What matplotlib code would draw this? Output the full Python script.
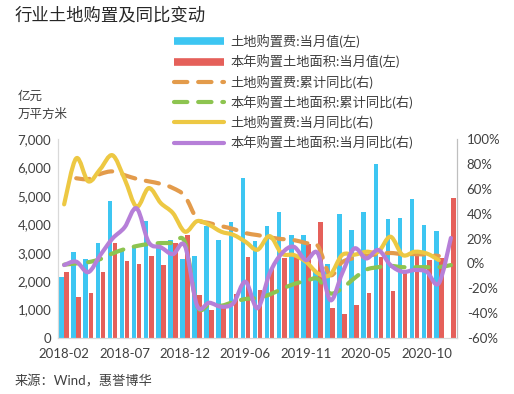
import numpy as np
import matplotlib
matplotlib.use('Agg')
import matplotlib.pyplot as plt
from matplotlib.lines import Line2D
from matplotlib.path import Path
from matplotlib.patches import PathPatch
from matplotlib.ticker import FuncFormatter

plt.rcParams['font.family'] = ['Lato', 'Noto Sans CJK SC', 'DejaVu Sans']

nan = np.nan
months = ['2018-02', '2018-03', '2018-04', '2018-05', '2018-06', '2018-07', '2018-08', '2018-09',
          '2018-10', '2018-11', '2018-12',
          '2019-02', '2019-03', '2019-04', '2019-05', '2019-06', '2019-07', '2019-08', '2019-09',
          '2019-10', '2019-11', '2019-12',
          '2020-02', '2020-03', '2020-04', '2020-05', '2020-06', '2020-07', '2020-08', '2020-09',
          '2020-10', '2020-11', '2020-12']
tick_labels = ['2018-02', '2018-07', '2018-12', '2019-06', '2019-11', '2020-05', '2020-10']

# 土地购置费:当月值(左), 亿元
fee_month = [2156, 3036, 2779, 3353, 4819, 3100, 3236, 4115, 3155, 3447, 2779,
             2884, 3940, 3447, 4080, 5640, 3424, 3940, 4432, 3612, 3612, 2357,
             2614, 4350, 3800, 4445, 6110, 4174, 4209, 4877, 3975, 3763, nan]
# 本年购置土地面积:当月值(左), 万平方米
area_month = [2320, 1442, 1583, 2310, 3330, 2708, 2603, 2884, 2580, 3341, 3623,
              1512, 974, 1100, 1560, 2849, 1700, 2427, 2800, 2920, 3318, 4080,
              1067, 856, 1172, 1571, 2838, 1665, 2333, 2920, 2744, 2803, 4935]
# 土地购置费:累计同比(右), %
fee_cum_yoy = [nan, 68.5, 67.8, 72, 74, 71, 68, 66, 64, 60.6, 54,
               35.7, 32.5, 30, 27.7, 24.4, 22.8, 21, 19.6, 18.8, 16.4, 14,
               -9.3, 1, 4.3, 6, 7.6, 8.4, 7.5, 7.5, 7, 6, nan]
# 本年购置土地面积:累计同比(右), %
area_cum_yoy = [-1, 0, 1, 3.5, 8, 11.5, 14, 15.6, 16.4, 16.4, 17,
                -34, -33.5, -34, -31, -28.6, -27.8, -25, -20.6, -16.6, -14, -12.5,
                -24, -20, -12, -5, -3, -2, -3, -3, -3, -3, -1.3]
# 土地购置费:当月同比(右), %
fee_month_yoy = [47.5, 84.5, 66, 76, 87, 68, 45.6, 60.6, 48.5, 40.5, 25.5,
                 34, 31, 25.5, 23, 17.5, 11, 22, 8, 6.8, 1.4, -8,
                 -9.3, 6.8, 7, 9.4, 9.4, 21.5, 6.8, 9.4, 8, 2.7, nan]
# 本年购置土地面积:当月同比(右), %
area_month_yoy = [-1.3, 1.4, -7, 6.8, 20, 29, 44.3, 17, 13, 7.5, 14,
                  -34, -31.6, -34.8, -32, -14.7, -36, -8, 8, 13.4, 2.7, 8,
                  -29.4, -8, 12, 4, 10.8, -1.3, -6.7, -5.3, -6.7, -16, 20.5]

blue = '#3DC6F2'
red = '#E5605A'
orange = '#E39B4B'
green = '#8DC450'
yellow = '#EDC843'
purple = '#B67FD8'
txt = '#404040'
lw = 3
dash = (3.2, 2.6)


def smooth_path(xs, ys):
    # Excel-style smoothed line: bezier segments through the data points
    pts = [(a, b) for a, b in zip(xs, ys) if not np.isnan(b)]
    p = np.array(pts, dtype=float)
    verts = [p[0]]
    codes = [Path.MOVETO]
    n = len(p)
    for i in range(n - 1):
        p0 = p[i - 1] if i > 0 else p[i]
        p3 = p[i + 2] if i + 2 < n else p[i + 1]
        c1 = p[i] + (p[i + 1] - p0) / 6
        c2 = p[i + 1] - (p3 - p[i]) / 6
        verts += [c1, c2, p[i + 1]]
        codes += [Path.CURVE4] * 3
    return Path(verts, codes)


def draw_line(a, ys, color, dashed, z):
    patch = PathPatch(smooth_path(x, ys), fill=False, edgecolor=color, lw=lw,
                      capstyle='round', joinstyle='round', zorder=z)
    if dashed:
        patch.set_linestyle((0, dash))
    a.add_patch(patch)


fig = plt.figure(figsize=(5.14, 3.94), dpi=100)
ax = fig.add_axes([0.113, 0.142, 0.776, 0.505])
x = np.arange(len(months))

ax.bar(x - 0.21, fee_month, width=0.38, color=blue, zorder=2)
ax.bar(x + 0.21, area_month, width=0.38, color=red, zorder=2)
ax.set_ylim(0, 7000)
ax.set_yticks(range(0, 7001, 1000))
ax.yaxis.set_major_formatter(FuncFormatter(lambda v, p: f'{int(v):,}'))
ax.set_xlim(-0.5, len(months) - 0.5)
ax.set_xticks([months.index(t) for t in tick_labels])
ax.set_xticklabels(tick_labels)
ax.tick_params(axis='y', length=0, pad=5, labelsize=9.5, colors=txt)
ax.tick_params(axis='x', length=0, pad=7, labelsize=9.5, colors=txt)

ax2 = ax.twinx()
draw_line(ax2, fee_cum_yoy, orange, True, 3)
draw_line(ax2, area_cum_yoy, green, True, 3)
draw_line(ax2, fee_month_yoy, yellow, False, 4)
draw_line(ax2, area_month_yoy, purple, False, 5)
ax2.set_ylim(-60, 100)
ax2.set_yticks(range(-60, 101, 20))
ax2.yaxis.set_major_formatter(FuncFormatter(lambda v, p: f'{int(v)}%'))
ax2.tick_params(axis='y', length=0, pad=7, labelsize=9.5, colors=txt)

for a in (ax, ax2):
    a.spines['top'].set_visible(False)
    a.spines['left'].set_color('#d9d9d9')
    a.spines['bottom'].set_color('#d9d9d9')
    a.spines['right'].set_color('#bfbfbf')

handles = [
    Line2D([], [], color=blue, lw=5.5, solid_capstyle='butt'),
    Line2D([], [], color=red, lw=5.5, solid_capstyle='butt'),
    Line2D([], [], color=orange, lw=lw, dashes=dash, dash_capstyle='round'),
    Line2D([], [], color=green, lw=lw, dashes=dash, dash_capstyle='round'),
    Line2D([], [], color=yellow, lw=lw, solid_capstyle='round'),
    Line2D([], [], color=purple, lw=lw, solid_capstyle='round'),
]
labels = ['土地购置费:当月值(左)', '本年购置土地面积:当月值(左)',
          '土地购置费:累计同比(右)', '本年购置土地面积:累计同比(右)',
          '土地购置费:当月同比(右)', '本年购置土地面积:当月同比(右)']
leg = fig.legend(handles, labels, loc='upper left', bbox_to_anchor=(0.338, 0.913),
                 frameon=False, fontsize=9.5, handlelength=3.8, handletextpad=0.5,
                 labelspacing=0.49, borderpad=0, borderaxespad=0)
for t in leg.get_texts():
    t.set_color(txt)

fig.text(0.029, 0.962, '行业土地购置及同比变动', fontsize=12.5, color='#262626', va='center', ha='left')
fig.text(0.035, 0.757, '亿元', fontsize=9, color=txt, va='center', ha='left')
fig.text(0.035, 0.711, '万平方米', fontsize=9, color=txt, va='center', ha='left')
fig.text(0.029, 0.033, '来源：Wind，惠誉博华', fontsize=9.5, color=txt, va='center', ha='left')

fig.savefig('out.png', dpi=100)
